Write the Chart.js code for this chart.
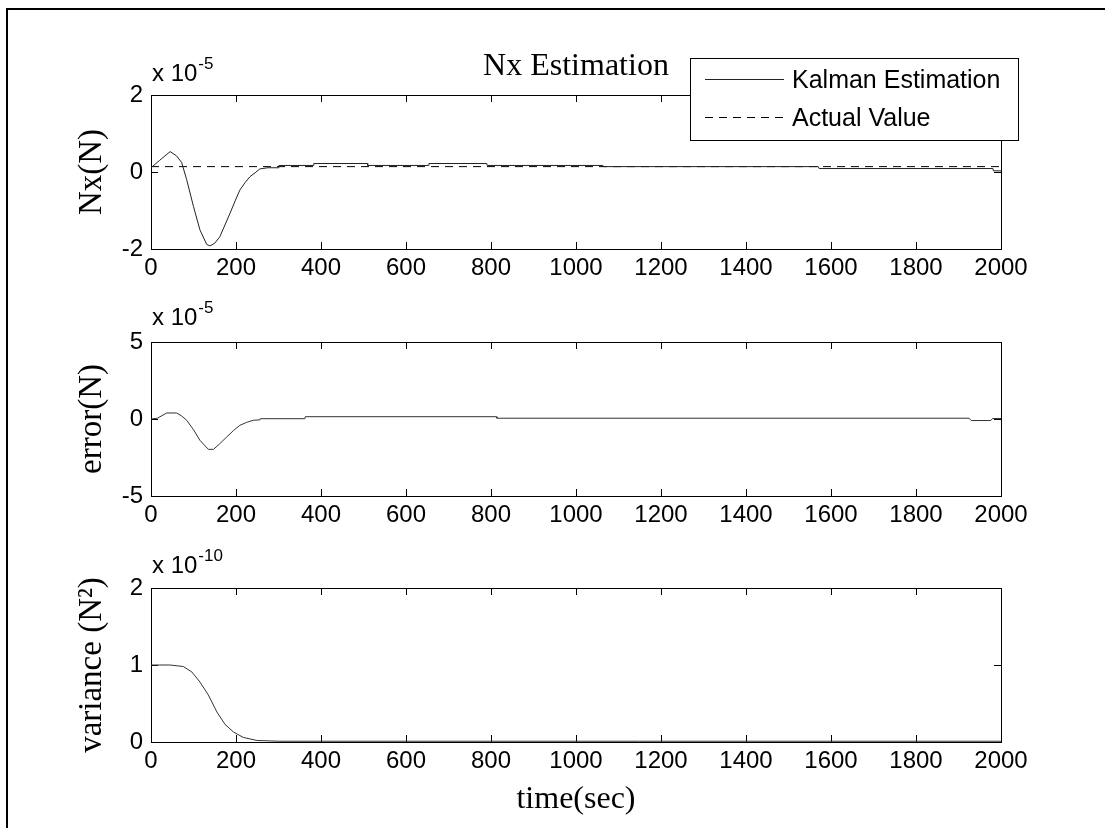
<!DOCTYPE html>
<html><head><meta charset="utf-8">
<script src="https://cdn.jsdelivr.net/npm/chart.js@4/dist/chart.umd.min.js"></script>
<style>
html,body{margin:0;padding:0;background:#fff;}
body{width:1105px;height:828px;position:relative;overflow:hidden;}
#frame{position:absolute;left:6px;top:8px;width:1099px;height:820px;border-left:2px solid #000;border-top:2px solid #000;box-sizing:border-box;}
canvas{position:absolute;left:0;}
</style></head><body>
<div id="frame"></div>
<canvas id="c1" width="1105" height="290" style="top:0px"></canvas>
<canvas id="c2" width="1105" height="250" style="top:290px"></canvas>
<canvas id="c3" width="1105" height="288" style="top:540px"></canvas>
<script>
// ---- data (values in units of the exponent shown above each panel) ----
const xTicks = [0,200,400,600,800,1000,1200,1400,1600,1800,2000];
const nxTicks = [-2,0,2];
const errTicks = [-5,0,5];
const varTicks = [0,1,2];

const timeNx = [0,20,45,60,72,84,100,115,131,139,150,162,175,186,198,209,221,233,245,256,275,300,301,382,383,509,510,653,654,790,791,1062,1063,1570,1572,1981,1982,2000];
const nxKalman = [0.11,0.3,0.53,0.42,0.25,-0.2,-0.9,-1.5,-1.88,-1.92,-1.85,-1.68,-1.35,-1.07,-0.75,-0.47,-0.28,-0.12,-0.02,0.08,0.11,0.11,0.17,0.17,0.22,0.22,0.17,0.17,0.22,0.22,0.17,0.17,0.14,0.14,0.09,0.09,0.03,0.03];
const timeActual = [0,2000];
const nxActual = [0.14,0.14];

const timeErr = [0,15,37,60,72,84,100,115,135,147,162,178,194,209,225,241,256,257,362,363,813,814,1925,1930,1976,1980,2000];
const errVal = [0,0.05,0.39,0.39,0.2,-0.08,-0.7,-1.38,-1.97,-1.97,-1.6,-1.17,-0.75,-0.41,-0.22,-0.08,-0.06,0.02,0.02,0.15,0.15,0.05,0.05,-0.1,-0.1,0.03,0.03];

const timeVar = [0,45,76,96,115,135,155,174,194,217,249,300,2000];
const varVal = [1.0,1.0,0.98,0.91,0.78,0.61,0.39,0.23,0.13,0.06,0.02,0.01,0.01];

const titleText = 'Nx Estimation';
const seriesLabels = ['Kalman Estimation','Actual Value'];
const yTitles = ['Nx(N)','error(N)','variance (N\u00B2)'];
const xTitle = 'time(sec)';
const exponents = ['-5','-5','-10'];

// ---- styling helpers ----
const SANS = '"Liberation Sans", Arial, sans-serif';
const SERIF = '"Liberation Serif", "Times New Roman", serif';
const pts = (xs, ys) => xs.map((x,i)=>({x:x,y:ys[i]}));
const setTicks = arr => (s => { s.ticks = arr.map(v=>({value:v})); });
const plain = v => String(v);
const gridOpts = {drawOnChartArea:false, drawTicks:true, tickLength:-7, color:'#000', lineWidth:1};
const borderOpts = {display:true, color:'#000', width:1};

function makeScales(yArr, yTitle, xH, xTitleOn) {
  const yMin = yArr[0], yMax = yArr[yArr.length-1];
  return {
    x: {type:'linear', position:'bottom', min:0, max:2000,
        afterBuildTicks:setTicks(xTicks), afterFit:s=>{s.height=xH;},
        grid:gridOpts, border:borderOpts,
        ticks:{color:'#000', font:{family:SANS,size:24}, padding:12, maxRotation:0, autoSkip:false, callback:plain},
        title:{display:xTitleOn, text:xTitle, color:'#000', font:{family:SERIF,size:32}, padding:{top:0,bottom:9}}},
    x2:{type:'linear', position:'top', min:0, max:2000,
        afterBuildTicks:setTicks(xTicks), afterFit:s=>{s.height=0;},
        grid:gridOpts, border:borderOpts, ticks:{display:false}},
    y: {type:'linear', position:'left', min:yMin, max:yMax,
        afterBuildTicks:setTicks(yArr), afterFit:s=>{s.width=151;},
        grid:gridOpts, border:borderOpts,
        ticks:{color:'#000', font:{family:SANS,size:24}, padding:15, callback:plain},
        title:{display:true, text:yTitle, color:'#000', font:{family:SERIF,size:33}, padding:{top:73,bottom:0}}},
    y2:{type:'linear', position:'right', min:yMin, max:yMax,
        afterBuildTicks:setTicks(yArr), afterFit:s=>{s.width=0;},
        grid:gridOpts, border:borderOpts, ticks:{display:false}}
  };
}

// exponent label "x 10^n" above the top-left corner of the axes
const exponentPlugin = {
  id:'exponent',
  afterDraw(chart, args, opts) {
    const ctx = chart.ctx, a = chart.chartArea;
    ctx.save();
    ctx.fillStyle = '#000';
    ctx.textBaseline = 'alphabetic';
    ctx.textAlign = 'left';
    ctx.font = '24px ' + SANS;
    const base = a.top - opts.dy;
    const txt = 'x 10';
    ctx.fillText(txt, a.left + 1, base);
    const w = ctx.measureText(txt).width;
    ctx.font = '17px ' + SANS;
    ctx.fillText(opts.exp, a.left + 1 + w + 1, base - 12);
    ctx.restore();
  }
};

// title + boxed legend for the first panel
const titleLegendPlugin = {
  id:'titleLegend',
  afterDraw(chart) {
    const ctx = chart.ctx, a = chart.chartArea;
    ctx.save();
    ctx.fillStyle = '#000';
    ctx.font = '32px ' + SERIF;
    ctx.textAlign = 'center';
    ctx.textBaseline = 'alphabetic';
    ctx.fillText(titleText, (a.left + a.right)/2, 75);
    // legend box
    const bx = 690.5, by = 58.5, bw = 328, bh = 82;
    ctx.fillStyle = '#fff';
    ctx.fillRect(bx, by, bw, bh);
    ctx.strokeStyle = '#000';
    ctx.lineWidth = 1;
    ctx.strokeRect(bx, by, bw, bh);
    const rows = [79.5, 117.5];
    chart.data.datasets.forEach((ds, i) => {
      ctx.beginPath();
      ctx.setLineDash(ds.borderDash || []);
      ctx.strokeStyle = ds.borderColor;
      ctx.moveTo(705, rows[i]);
      ctx.lineTo(784, rows[i]);
      ctx.stroke();
      ctx.setLineDash([]);
      ctx.fillStyle = '#000';
      ctx.font = '25px ' + SANS;
      ctx.textAlign = 'left';
      ctx.fillText(ds.label, 792, rows[i] + 8);
    });
    ctx.restore();
  }
};

const baseOpts = (scales, pad, exp, dy) => ({
  responsive:false, animation:false, events:[],
  layout:{padding:pad},
  scales:scales,
  plugins:{legend:{display:false}, tooltip:{enabled:false}, title:{display:false},
           exponent:{exp:exp, dy:dy}},
  elements:{point:{radius:0}, line:{tension:0}}
});

new Chart(document.getElementById('c1'), {
  type:'line',
  data:{datasets:[
    {label:seriesLabels[0], data:pts(timeNx,nxKalman), borderColor:'#222', borderWidth:1, fill:false},
    {label:seriesLabels[1], data:pts(timeActual,nxActual), borderColor:'#000', borderWidth:1, borderDash:[8,6], fill:false}
  ]},
  options:baseOpts(makeScales(nxTicks, yTitles[0], 41, false), {left:0,right:104,top:95,bottom:0}, exponents[0], 14),
  plugins:[exponentPlugin, titleLegendPlugin]
});

new Chart(document.getElementById('c2'), {
  type:'line',
  data:{datasets:[
    {label:'error', data:pts(timeErr,errVal), borderColor:'#333', borderWidth:1, fill:false}
  ]},
  options:baseOpts(makeScales(errTicks, yTitles[1], 44, false), {left:0,right:104,top:52,bottom:0}, exponents[1], 17),
  plugins:[exponentPlugin]
});

new Chart(document.getElementById('c3'), {
  type:'line',
  data:{datasets:[
    {label:'variance', data:pts(timeVar,varVal), borderColor:'#333', borderWidth:1, fill:false}
  ]},
  options:baseOpts(makeScales(varTicks, yTitles[2], 86, true), {left:0,right:104,top:48,bottom:0}, exponents[2], 15),
  plugins:[exponentPlugin]
});
</script>
</body></html>
